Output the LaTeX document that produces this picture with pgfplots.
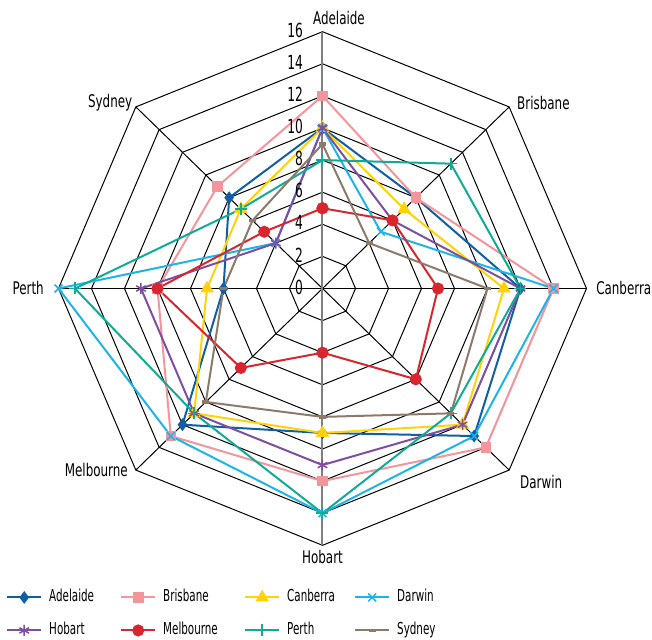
\documentclass[border=0pt]{standalone}
\usepackage{pgfplots}
\pgfplotsset{compat=1.18}
\usepackage{fontspec}
\setmainfont{DejaVu Sans Condensed}[FakeStretch=0.8]
\newfontfamily\labfont{DejaVu Sans Condensed}[FakeStretch=0.76]
\newfontfamily\legfont{DejaVu Sans Condensed}[FakeStretch=0.7]
\newfontfamily\numfont{DejaVu Sans Condensed}[FakeStretch=0.7]

\definecolor{cAde}{RGB}{16,95,165}
\definecolor{cBri}{RGB}{244,149,155}
\definecolor{cCan}{RGB}{255,210,10}
\definecolor{cDar}{RGB}{29,180,234}
\definecolor{cHob}{RGB}{126,79,160}
\definecolor{cMel}{RGB}{215,38,46}
\definecolor{cPer}{RGB}{16,171,150}
\definecolor{cSyd}{RGB}{140,123,107}

\pgfplotsset{
  ser/.style={line width=2bp, data cs=polar, mark options={solid, line width=1.5bp}},
  gridl/.style={black, line width=1bp, data cs=polar, forget plot, mark=none},
}

\begin{document}
\begin{tikzpicture}
\begin{axis}[
  name=ax, scale only axis, x=16.5bp, y=16.05bp,
  xmin=-19.545, xmax=19.97, ymin=-21.9, ymax=17.975,
  hide axis, clip=false,
  legend columns=4,
  legend cell align=left,
  legend style={at={(axis cs:-19.18,-18.8)}, anchor=north west, draw=none, fill=none,
    inner sep=0pt, font=\legfont\fontsize{16.5}{19}\selectfont,
    nodes={inner sep=0pt, text height=11bp, text depth=3bp},
    /tikz/every odd column/.append style={column sep=7bp},
    /tikz/every even column/.append style={column sep=0bp},
    row sep=19bp},
  legend image code/.code={\draw[mark repeat=2,mark phase=2] plot coordinates {(0bp,0bp)(17bp,0bp)(34bp,0bp)};},
]
% grid octagons
\pgfplotsinvokeforeach{2,4,6,8,10,12,14,16}{
  \addplot[gridl] coordinates {(0,#1)(45,#1)(90,#1)(135,#1)(180,#1)(225,#1)(270,#1)(315,#1)(360,#1)};
}
\addplot[gridl] coordinates {(0,16)(180,16)};
\addplot[gridl] coordinates {(45,16)(225,16)};
\addplot[gridl] coordinates {(135,16)(315,16)};
\addplot[gridl, color={rgb,255:red,128;green,128;blue,128}, line width=2bp] coordinates {(90,16)(270,16)};

% series: angles Adelaide 90, Brisbane 45, Canberra 0, Darwin -45, Hobart -90, Melbourne -135, Perth 180, Sydney 135
\addplot[ser, cAde, mark=diamond*, mark size=4.8bp, mark options={fill=cAde}] coordinates {(90,10)(45,8)(0,12)(-45,13)(-90,9)(-135,12)(180,6)(135,8)(90,10)};
\addlegendentry{\makebox[71bp][l]{Adelaide}}
\addplot[ser, cBri, mark=square*, mark size=4.3bp, mark options={fill=cBri}] coordinates {(90,12)(45,8)(0,14)(-45,14)(-90,12)(-135,13)(180,10)(135,9)(90,12)};
\addlegendentry{\makebox[81bp][l]{Brisbane}}
\addplot[ser, cCan, mark=triangle*, mark size=5.8bp, mark options={fill=cCan}] coordinates {(90,10)(45,7)(0,11)(-45,12)(-90,9)(-135,11)(180,7)(135,7)(90,10)};
\addlegendentry{\makebox[67bp][l]{Canberra}}
\addplot[ser, cDar, mark=x, mark size=5.5bp] coordinates {(90,10)(45,5)(0,14)(-45,13)(-90,14)(-135,13)(180,16)(135,4)(90,10)};
\addlegendentry{Darwin}
\addplot[ser, cHob, mark=asterisk, mark size=5.5bp] coordinates {(90,10)(45,6)(0,12)(-45,12)(-90,11)(-135,11)(180,11)(135,4)(90,10)};
\addlegendentry{\makebox[71bp][l]{Hobart}}
\addplot[ser, cMel, mark=*, mark size=5bp, mark options={fill=cMel}] coordinates {(90,5)(45,6)(0,7)(-45,8)(-90,4)(-135,7)(180,10)(135,5)(90,5)};
\addlegendentry{\makebox[81bp][l]{Melbourne}}
\addplot[ser, cPer, mark=+, mark size=6bp] coordinates {(90,8)(45,11)(0,12)(-45,11)(-90,14)(-135,11)(180,15)(135,7)(90,8)};
\addlegendentry{\makebox[67bp][l]{Perth}}
\addplot[ser, cSyd, mark=-, mark size=3.5bp, mark options={line width=3.5bp}] coordinates {(90,9)(45,4)(0,10)(-45,11)(-90,8)(-135,10)(180,6)(135,6)(90,9)};
\addlegendentry{Sydney}

% value labels
\begin{scope}[font=\numfont\fontsize{19.5}{22}\selectfont, inner sep=0pt]
\node[anchor=east, yshift=1.5bp] at (axis cs:-1.18,0) {0};
\node[anchor=east, yshift=1.5bp] at (axis cs:-1.18,2) {2};
\node[anchor=east, yshift=1.5bp] at (axis cs:-1.18,4) {4};
\node[anchor=east, yshift=1.5bp] at (axis cs:-1.18,6) {6};
\node[anchor=east, yshift=1.5bp] at (axis cs:-1.18,8) {8};
\node[anchor=east, yshift=1.5bp] at (axis cs:-1.18,10) {10};
\node[anchor=east, yshift=1.5bp] at (axis cs:-1.18,12) {12};
\node[anchor=east, yshift=1.5bp] at (axis cs:-1.18,14) {14};
\node[anchor=east, yshift=1.5bp] at (axis cs:-1.18,16) {16};
\end{scope}
% category labels
\begin{scope}[font=\labfont\fontsize{17.5}{20}\selectfont, inner sep=0pt]
\node[anchor=center] at (axis cs:1.0,16.85) {Adelaide};
\node[anchor=west] at (axis cs:11.79,11.56) {Brisbane};
\node[anchor=west] at (axis cs:16.58,0) {Canberra};
\node[anchor=west] at (axis cs:11.97,-12.06) {Darwin};
\node[anchor=center] at (axis cs:0,-16.73) {Hobart};
\node[anchor=east] at (axis cs:-11.79,-11.31) {Melbourne};
\node[anchor=east] at (axis cs:-16.88,0) {Perth};
\node[anchor=east] at (axis cs:-11.52,11.56) {Sydney};
\end{scope}
\end{axis}
\pgfresetboundingbox
\path (ax.south west) rectangle (ax.north east);
\end{tikzpicture}
\end{document}
